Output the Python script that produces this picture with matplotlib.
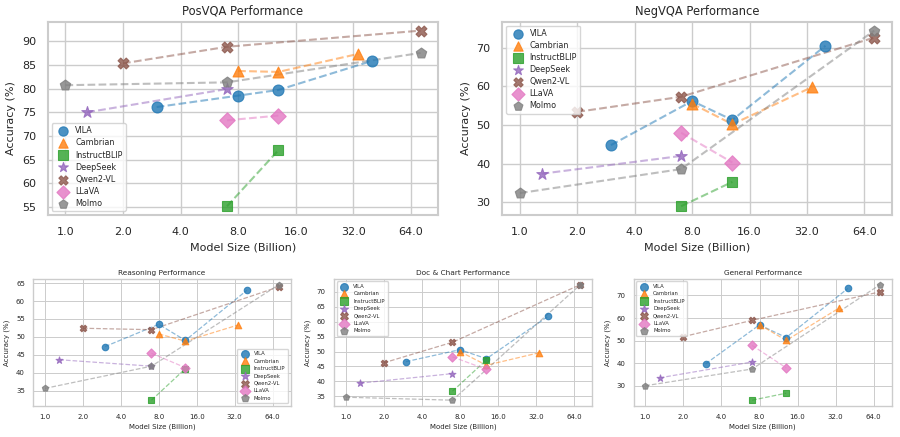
import matplotlib
matplotlib.use("Agg")
import matplotlib.pyplot as plt
import seaborn as sns
from matplotlib.ticker import FixedLocator, FixedFormatter, NullLocator, MultipleLocator

sns.set_style("whitegrid")

# model sizes (billion params)
vila_x = [3, 8, 13, 40]
cambrian_x = [8, 13, 34]
instructblip_x = [7, 13]
deepseek_x = [1.3, 7]
qwen_x = [2, 7, 72]
llava_x = [7, 13]
molmo_x = [1, 7, 72]

models = ["VILA", "Cambrian", "InstructBLIP", "DeepSeek", "Qwen2-VL", "LLaVA", "Molmo"]
sizes = [vila_x, cambrian_x, instructblip_x, deepseek_x, qwen_x, llava_x, molmo_x]

# accuracy per benchmark, same order as models
posvqa = [
    [76.1, 78.5, 79.7, 85.8],
    [83.7, 83.5, 87.3],
    [55.2, 67.0],
    [75.0, 79.9],
    [85.3, 88.8, 92.2],
    [73.3, 74.3],
    [80.7, 81.3, 87.5],
]
negvqa = [
    [44.8, 56.2, 51.3, 70.5],
    [55.5, 50.2, 59.8],
    [29.0, 35.3],
    [37.4, 42.0],
    [53.4, 57.3, 72.6],
    [48.0, 40.3],
    [32.4, 38.6, 74.4],
]
reasoning = [
    [47.3, 53.5, 49.0, 63.0],
    [50.8, 48.8, 53.3],
    [32.3, 41.1],
    [43.6, 41.8],
    [52.4, 52.0, 64.0],
    [45.4, 41.4],
    [35.6, 41.8, 64.6],
]
doc_chart = [
    [46.6, 50.6, 47.6, 61.8],
    [50.0, 45.4, 49.6],
    [36.7, 47.2],
    [39.4, 42.6],
    [46.2, 53.1, 72.4],
    [48.2, 44.0],
    [34.7, 33.7, 72.4],
]
general = [
    [39.8, 57.0, 51.4, 73.1],
    [57.1, 50.1, 64.4],
    [23.7, 26.8],
    [33.6, 40.6],
    [51.8, 59.0, 71.6],
    [47.9, 38.0],
    [30.1, 37.5, 74.8],
]

xticks = [1, 2, 4, 8, 16, 32, 64]
xticklabels = ["1.0", "2.0", "4.0", "8.0", "16.0", "32.0", "64.0"]

colors = ["#1f77b4", "#ff7f0e", "#2ca02c", "#9467bd", "#8c564b", "#e377c2", "#7f7f7f"]
markers = ["o", "^", "s", "*", "X", "D", "p"]

fig = plt.figure(figsize=(9, 4.37), dpi=100)


def draw(ax, data, title, big, legend_loc, ystep):
    s = 62 if big else 22
    fs = 8 if big else 5
    for name, xs, ys, c, m in zip(models, sizes, data, colors, markers):
        ax.plot(xs, ys, "--", color=c, alpha=0.5, lw=1.5 if big else 0.9)
        ms = s * 1.2 if m == "*" else s
        ax.scatter(xs, ys, marker=m, s=ms, color=c, alpha=0.8, label=name,
                   edgecolors=c, linewidths=0.8, zorder=3)
    ax.set_xscale("log", base=2)
    ax.xaxis.set_major_locator(FixedLocator(xticks))
    ax.xaxis.set_major_formatter(FixedFormatter(xticklabels))
    ax.xaxis.set_minor_locator(NullLocator())
    ax.yaxis.set_major_locator(MultipleLocator(ystep))
    ax.set_title(title, fontsize=fs + 0.3, pad=5 if big else 3)
    ax.set_xlabel("Model Size (Billion)", fontsize=fs, labelpad=4 if big else 2)
    ax.set_ylabel("Accuracy (%)", fontsize=fs)
    ax.tick_params(labelsize=fs, pad=5 if big else 2.5)
    for sp in ax.spines.values():
        sp.set_linewidth(1.5 if big else 1.0)
    ax.grid(True, lw=1.0 if big else 0.7)
    if big:
        ax.legend(loc=legend_loc, fontsize=5.8, markerscale=0.85, frameon=True,
                  borderpad=0.4, handletextpad=0.5, labelspacing=0.38)
    else:
        ax.legend(loc=legend_loc, fontsize=3.8, markerscale=1.2, frameon=True,
                  borderpad=0.5, handletextpad=0.7, labelspacing=0.45)


ax1 = fig.add_axes([0.053, 0.508, 0.434, 0.442])
draw(ax1, posvqa, "PosVQA Performance", True, "lower left", 5)
ax2 = fig.add_axes([0.558, 0.508, 0.433, 0.442])
draw(ax2, negvqa, "NegVQA Performance", True, "upper left", 10)

ax3 = fig.add_axes([0.037, 0.071, 0.286, 0.291])
draw(ax3, reasoning, "Reasoning Performance", False, "lower right", 5)
ax4 = fig.add_axes([0.371, 0.071, 0.287, 0.291])
draw(ax4, doc_chart, "Doc & Chart Performance", False, "upper left", 5)
ax5 = fig.add_axes([0.704, 0.071, 0.287, 0.291])
draw(ax5, general, "General Performance", False, "upper left", 10)

fig.savefig("out.png", dpi=100)
